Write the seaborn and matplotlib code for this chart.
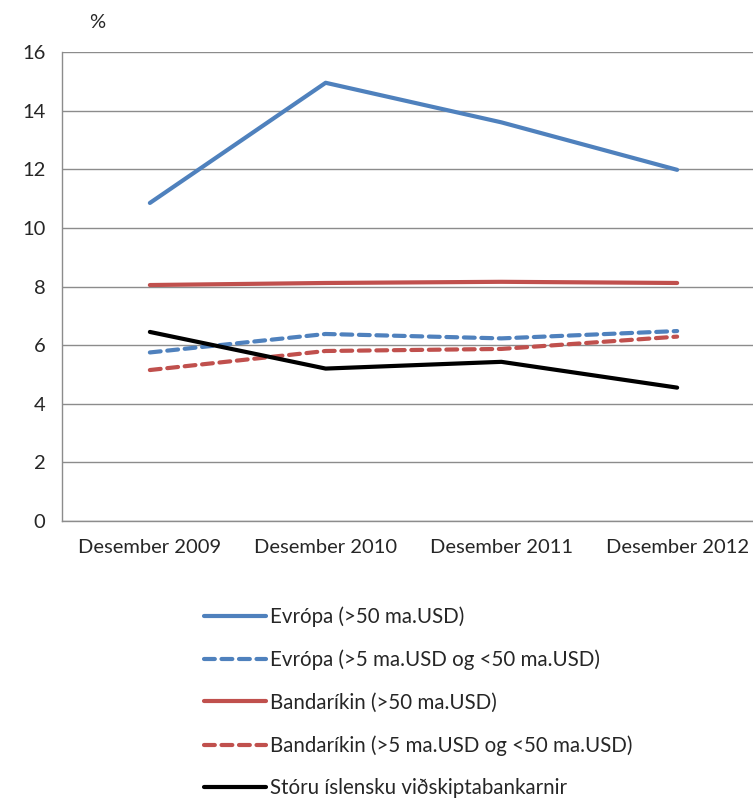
import pandas as pd
import matplotlib
matplotlib.use("Agg")
import matplotlib.pyplot as plt
import seaborn as sns

# data
categories = ["Desember 2009", "Desember 2010", "Desember 2011", "Desember 2012"]
evropa_stor = [10.85, 14.95, 13.6, 11.98]
evropa_mid = [5.75, 6.38, 6.23, 6.48]
usa_stor = [8.05, 8.12, 8.16, 8.12]
usa_mid = [5.15, 5.8, 5.87, 6.29]
isl_bankar = [6.45, 5.2, 5.43, 4.55]

series_names = [
    "Evrópa (>50 ma.USD)",
    "Evrópa (>5 ma.USD og <50 ma.USD)",
    "Bandaríkin (>50 ma.USD)",
    "Bandaríkin (>5 ma.USD og <50 ma.USD)",
    "Stóru íslensku viðskiptabankarnir",
]
series_values = [evropa_stor, evropa_mid, usa_stor, usa_mid, isl_bankar]

BLUE = "#4F81BD"
RED = "#C0504D"
styles = [
    (BLUE, "-"),
    (BLUE, (0, (2.6, 1.6))),
    (RED, "-"),
    (RED, (0, (2.6, 1.6))),
    ("black", "-"),
]

sns.set_style("white")
plt.rcParams["font.family"] = ["Lato", "DejaVu Sans"]

fig = plt.figure(figsize=(7.53, 7.99), dpi=100)
ax = fig.add_axes([62 / 753, 1 - 521 / 799, 703 / 753, 469 / 799])

x = list(range(len(categories)))
for name, vals, (col, ls) in zip(series_names, series_values, styles):
    df = pd.DataFrame({"x": x, "y": vals})
    sns.lineplot(data=df, x="x", y="y", ax=ax, color=col, linestyle=ls,
                 linewidth=3, label=name, legend=False)
    ax.lines[-1].set_solid_capstyle("round")
    ax.lines[-1].set_dash_capstyle("round")

ax.set_xlim(-0.5, 3.5)
ax.set_ylim(0, 16)
ax.set_yticks(range(0, 17, 2))
ax.set_xticks(x)
ax.set_xticklabels(categories)
ax.set_xlabel("")
ax.set_ylabel("")
ax.tick_params(axis="y", labelsize=14.5, length=0, pad=12)
ax.tick_params(axis="x", labelsize=14.5, length=0, pad=13)
ax.yaxis.grid(True, color="#8c8c8c", linewidth=1)
ax.set_axisbelow(True)
for s in ["top", "right"]:
    ax.spines[s].set_visible(False)
for s in ["left", "bottom"]:
    ax.spines[s].set_color("#8c8c8c")
    ax.spines[s].set_linewidth(1)

fig.text(97 / 753, 1 - 22 / 799, "%", fontsize=14.5, ha="center", va="center")

handles, labels = ax.get_legend_handles_labels()
fig.legend(handles, labels, loc="upper left", bbox_to_anchor=(196 / 753, 1 - 598 / 799),
           frameon=False, fontsize=14.8, handlelength=3.0, handletextpad=0.2,
           labelspacing=1.1, borderaxespad=0)

fig.savefig("out.png", dpi=100)
